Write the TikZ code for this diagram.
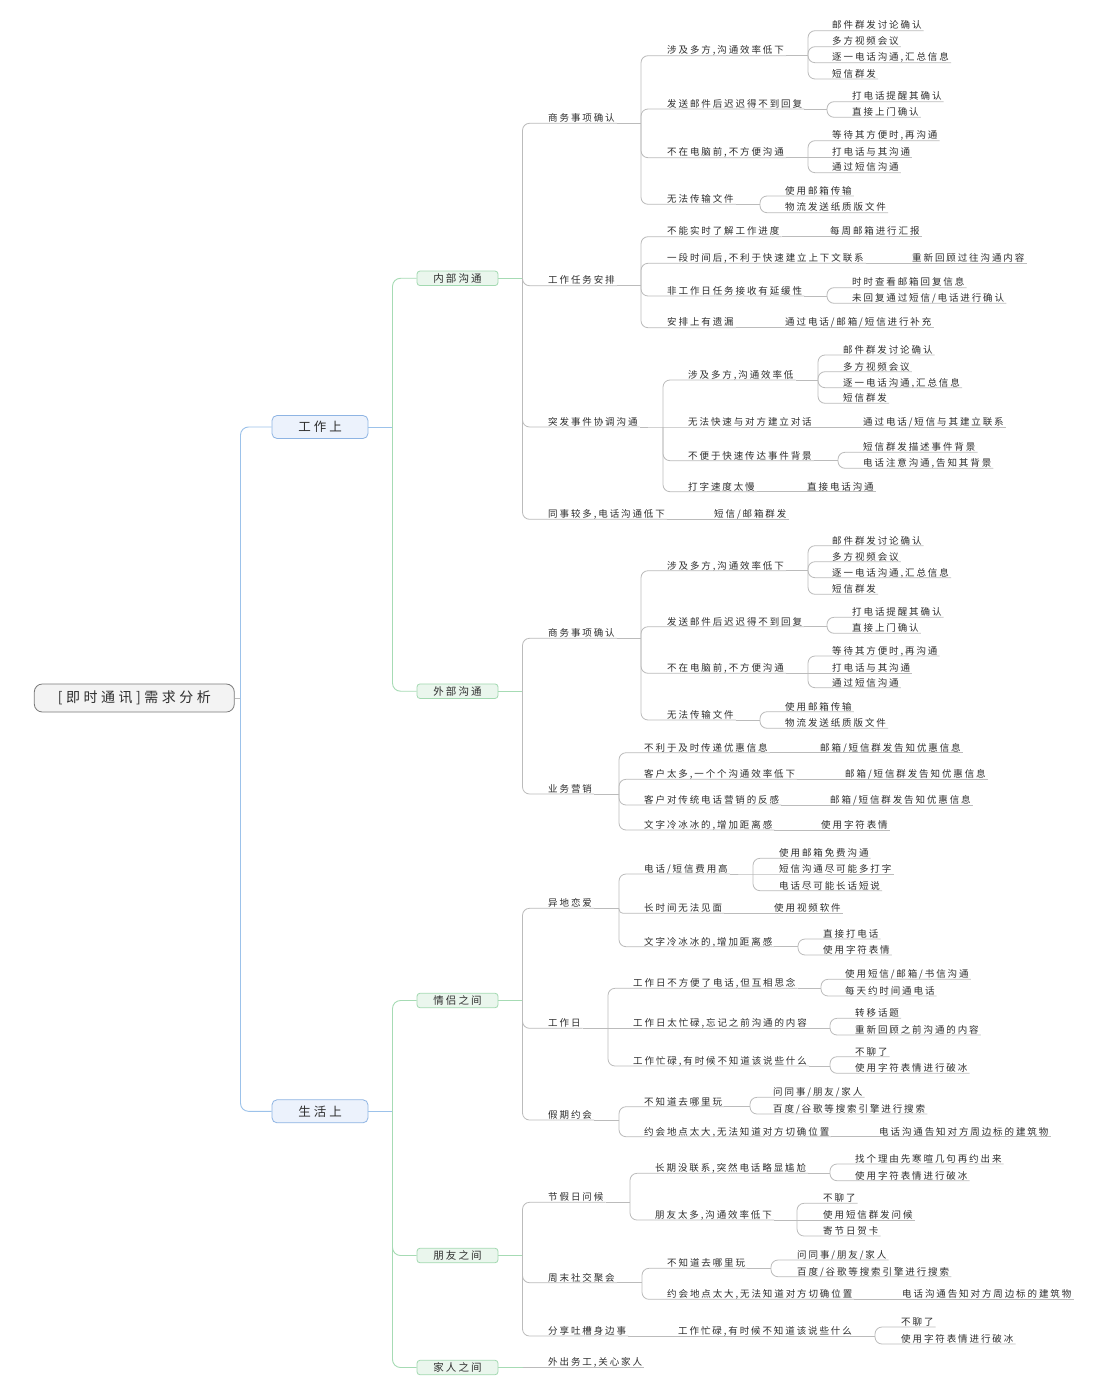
\documentclass[tikz,border=0pt]{standalone}
\usepackage{fontspec}
\usepackage{tikz}
\usetikzlibrary{positioning,calc}

\newfontfamily\leaffont[LetterSpace=20]{Noto Sans CJK SC}
\newfontfamily\subfont[LetterSpace=20]{Noto Sans CJK SC}
\newfontfamily\topfont[LetterSpace=24]{Noto Sans CJK SC}
\newfontfamily\rootfont[LetterSpace=25]{Noto Sans CJK SC}

\definecolor{linegray}{HTML}{BBBBBB}
\definecolor{lineblue}{HTML}{9CC2EA}
\definecolor{linegreen}{HTML}{A6DBB4}
\definecolor{rootfill}{HTML}{F3F3F3}
\definecolor{rootdraw}{HTML}{7A7A7A}
\definecolor{topfill}{HTML}{ECF2FC}
\definecolor{topdraw}{HTML}{8EB4E3}
\definecolor{subfill}{HTML}{EAF6ED}
\definecolor{subdraw}{HTML}{A3D9B1}
\definecolor{txt}{HTML}{2E2E2E}

\tikzset{
  leaf/.style={anchor=south west, inner xsep=2pt, inner ysep=0pt, text height=7.5pt, text depth=1.5pt,
    font=\leaffont\fontsize{9.5}{10}\selectfont, text=txt},
  rootbox/.style={draw=rootdraw, fill=rootfill, rounded corners=8pt, line width=0.8pt,
    minimum width=200pt, minimum height=28pt, font=\rootfont\fontsize{14}{16}\selectfont, text=txt},
  topbox/.style={draw=topdraw, fill=topfill, rounded corners=5pt, line width=0.8pt,
    minimum width=96pt, minimum height=23pt, font=\topfont\fontsize{12.5}{14}\selectfont, text=txt},
  subbox/.style={draw=subdraw, fill=subfill, rounded corners=3pt, line width=0.8pt,
    minimum width=81pt, minimum height=14.5pt, inner ysep=0pt, font=\subfont\fontsize{10.5}{11}\selectfont, text=txt},
  gline/.style={draw=linegray, line width=0.8pt, rounded corners=7pt},
  bline/.style={draw=lineblue, line width=0.9pt, rounded corners=8pt},
  grline/.style={draw=linegreen, line width=0.9pt, rounded corners=8pt}
}

\begin{document}
\begin{tikzpicture}[x=1pt,y=-1pt]
\fill[white] (0,0) rectangle (1106,1396);
\useasboundingbox (0,0) rectangle (1106,1396);

% root and first two levels
\node[rootbox] (root) at (134.3,698) {[即时通讯]需求分析};
\node[topbox] (work) at (320,427) {工作上};
\node[topbox] (life) at (320,1111.3) {生活上};
\node[subbox] (inner) at (457.5,278.3) {内部沟通};
\node[subbox] (outer) at (457.5,691.2) {外部沟通};
\node[subbox] (couple) at (457.5,1000.5) {情侣之间};
\node[subbox] (friend) at (457.5,1255.5) {朋友之间};
\node[subbox] (family) at (457.5,1367.5) {家人之间};
\coordinate (rootj) at (240.5,698);
\coordinate (workj) at (392.5,427);
\coordinate (lifej) at (392.5,1111.3);
\draw[gline] (root.east) -- (rootj);
\foreach \c in {work,life} \draw[bline] (rootj) |- (\c.west);
\draw[bline] (work.east) -- (workj);
\foreach \c in {inner,outer} \draw[grline] (workj) |- (\c.west);
\draw[bline] (life.east) -- (lifej);
\foreach \c in {couple,friend,family} \draw[grline] (lifej) |- (\c.west);

% 内部沟通
\coordinate (innerj) at (522.5,278.3);
\node[leaf] (in1) at (546,123.3) {商务事项确认};
\node[leaf] (in2) at (546,285.7) {工作任务安排};
\node[leaf] (in3) at (546,427) {突发事件协调沟通};
\node[leaf] (in4) at (546,519.3) {同事较多,电话沟通低下};
\draw[grline] (inner.east) -- (innerj);
\foreach \c in {in1,in2,in3,in4} \draw[gline] (innerj) |- (\c.south east);

\coordinate (in1j) at (641,123.3);
\node[leaf] (in1a) at (665,55.7) {涉及多方,沟通效率低下};
\node[leaf] (in1b) at (665,109) {发送邮件后迟迟得不到回复};
\node[leaf] (in1c) at (665,157.7) {不在电脑前,不方便沟通};
\node[leaf] (in1d) at (665,204.3) {无法传输文件};
\draw[gline] (in1.south east) -- (in1j);
\foreach \c in {in1a,in1b,in1c,in1d} \draw[gline] (in1j) |- (\c.south east);

\coordinate (in1aj) at (808,55.7);
\node[leaf] (in1a1) at (830,30.7) {邮件群发讨论确认};
\node[leaf] (in1a2) at (830,46.7) {多方视频会议};
\node[leaf] (in1a3) at (830,62.7) {逐一电话沟通,汇总信息};
\node[leaf] (in1a4) at (830,79) {短信群发};
\draw[gline] (in1a.south east) -- (in1aj);
\foreach \c in {in1a1,in1a2,in1a3,in1a4} \draw[gline] (in1aj) |- (\c.south east);

\coordinate (in1bj) at (827,109);
\node[leaf] (in1b1) at (850,101.7) {打电话提醒其确认};
\node[leaf] (in1b2) at (850,117.3) {直接上门确认};
\draw[gline] (in1b.south east) -- (in1bj);
\foreach \c in {in1b1,in1b2} \draw[gline] (in1bj) |- (\c.south east);

\coordinate (in1cj) at (808,157.7);
\node[leaf] (in1c1) at (830,140.7) {等待其方便时,再沟通};
\node[leaf] (in1c2) at (830,157.7) {打电话与其沟通};
\node[leaf] (in1c3) at (830,172.7) {通过短信沟通};
\draw[gline] (in1c.south east) -- (in1cj) -- (in1c2.south east);
\foreach \c in {in1c1,in1c3} \draw[gline] (in1cj) |- (\c.south east);

\coordinate (in1dj) at (760,204.3);
\node[leaf] (in1d1) at (783,196) {使用邮箱传输};
\node[leaf] (in1d2) at (783,212.7) {物流发送纸质版文件};
\draw[gline] (in1d.south east) -- (in1dj);
\foreach \c in {in1d1,in1d2} \draw[gline] (in1dj) |- (\c.south east);

\coordinate (in2j) at (641,285.7);
\node[leaf] (in2a) at (665,236.7) {不能实时了解工作进度};
\node[leaf] (in2b) at (665,263.3) {一段时间后,不利于快速建立上下文联系};
\node[leaf] (in2c) at (665,296) {非工作日任务接收有延缓性};
\node[leaf] (in2d) at (665,327.7) {安排上有遗漏};
\draw[gline] (in2.south east) -- (in2j);
\foreach \c in {in2a,in2b,in2c,in2d} \draw[gline] (in2j) |- (\c.south east);
\node[leaf] (in2a1) at (828,236.7) {每周邮箱进行汇报};
\node[leaf] (in2b1) at (910,263.3) {重新回顾过往沟通内容};
\node[leaf] (in2d1) at (783,327.7) {通过电话/邮箱/短信进行补充};
\draw[gline] (in2a.south east) -- (in2a1.south east);
\draw[gline] (in2b.south east) -- (in2b1.south east);
\draw[gline] (in2d.south east) -- (in2d1.south east);
\coordinate (in2cj) at (827,296);
\node[leaf] (in2c1) at (850,287.7) {时时查看邮箱回复信息};
\node[leaf] (in2c2) at (850,303.3) {未回复通过短信/电话进行确认};
\draw[gline] (in2c.south east) -- (in2cj);
\foreach \c in {in2c1,in2c2} \draw[gline] (in2cj) |- (\c.south east);

\coordinate (in3j) at (663,427);
\node[leaf] (in3a) at (686,380) {涉及多方,沟通效率低};
\node[leaf] (in3b) at (686,427) {无法快速与对方建立对话};
\node[leaf] (in3c) at (686,460.7) {不便于快速传达事件背景};
\node[leaf] (in3d) at (686,491.7) {打字速度太慢};
\draw[gline] (in3.south east) -- (in3j) -- (in3b.south east);
\foreach \c in {in3a,in3c,in3d} \draw[gline] (in3j) |- (\c.south east);
\coordinate (in3aj) at (818,380);
\node[leaf] (in3a1) at (841,355) {邮件群发讨论确认};
\node[leaf] (in3a2) at (841,371.7) {多方视频会议};
\node[leaf] (in3a3) at (841,387.7) {逐一电话沟通,汇总信息};
\node[leaf] (in3a4) at (841,403.3) {短信群发};
\draw[gline] (in3a.south east) -- (in3aj);
\foreach \c in {in3a1,in3a2,in3a3,in3a4} \draw[gline] (in3aj) |- (\c.south east);
\node[leaf] (in3b1) at (861,427) {通过电话/短信与其建立联系};
\draw[gline] (in3b.south east) -- (in3b1.south east);
\coordinate (in3cj) at (838,460.7);
\node[leaf] (in3c1) at (861,452.3) {短信群发描述事件背景};
\node[leaf] (in3c2) at (861,468.3) {电话注意沟通,告知其背景};
\draw[gline] (in3c.south east) -- (in3cj);
\foreach \c in {in3c1,in3c2} \draw[gline] (in3cj) |- (\c.south east);
\node[leaf] (in3d1) at (805,491.7) {直接电话沟通};
\draw[gline] (in3d.south east) -- (in3d1.south east);
\node[leaf] (in4a) at (712,519.3) {短信/邮箱群发};
\draw[gline] (in4.south east) -- (in4a.south east);

% 外部沟通
\coordinate (outerj) at (522.5,691.2);
\node[leaf] (out1) at (546,638.3) {商务事项确认};
\node[leaf] (out2) at (546,794) {业务营销};
\draw[grline] (outer.east) -- (outerj);
\foreach \c in {out1,out2} \draw[gline] (outerj) |- (\c.south east);

\coordinate (out1j) at (641,638.3);
\node[leaf] (out1a) at (665,570.7) {涉及多方,沟通效率低下};
\node[leaf] (out1b) at (665,626.7) {发送邮件后迟迟得不到回复};
\node[leaf] (out1c) at (665,673.3) {不在电脑前,不方便沟通};
\node[leaf] (out1d) at (665,720) {无法传输文件};
\draw[gline] (out1.south east) -- (out1j);
\foreach \c in {out1a,out1b,out1c,out1d} \draw[gline] (out1j) |- (\c.south east);

\coordinate (out1aj) at (808,570.7);
\node[leaf] (out1a1) at (830,545.7) {邮件群发讨论确认};
\node[leaf] (out1a2) at (830,561.7) {多方视频会议};
\node[leaf] (out1a3) at (830,577.7) {逐一电话沟通,汇总信息};
\node[leaf] (out1a4) at (830,594.3) {短信群发};
\draw[gline] (out1a.south east) -- (out1aj);
\foreach \c in {out1a1,out1a2,out1a3,out1a4} \draw[gline] (out1aj) |- (\c.south east);

\coordinate (out1bj) at (827,626.7);
\node[leaf] (out1b1) at (850,617.3) {打电话提醒其确认};
\node[leaf] (out1b2) at (850,633.3) {直接上门确认};
\draw[gline] (out1b.south east) -- (out1bj);
\foreach \c in {out1b1,out1b2} \draw[gline] (out1bj) |- (\c.south east);

\coordinate (out1cj) at (808,673.3);
\node[leaf] (out1c1) at (830,656) {等待其方便时,再沟通};
\node[leaf] (out1c2) at (830,673.3) {打电话与其沟通};
\node[leaf] (out1c3) at (830,687.7) {通过短信沟通};
\draw[gline] (out1c.south east) -- (out1cj) -- (out1c2.south east);
\foreach \c in {out1c1,out1c3} \draw[gline] (out1cj) |- (\c.south east);

\coordinate (out1dj) at (760,720);
\node[leaf] (out1d1) at (783,711.7) {使用邮箱传输};
\node[leaf] (out1d2) at (783,728.3) {物流发送纸质版文件};
\draw[gline] (out1d.south east) -- (out1dj);
\foreach \c in {out1d1,out1d2} \draw[gline] (out1dj) |- (\c.south east);

\coordinate (out2j) at (619,794);
\node[leaf] (out2a) at (642,752.7) {不利于及时传递优惠信息};
\node[leaf] (out2b) at (642,779.3) {客户太多,一个个沟通效率低下};
\node[leaf] (out2c) at (642,805) {客户对传统电话营销的反感};
\node[leaf] (out2d) at (642,830) {文字冷冰冰的,增加距离感};
\draw[gline] (out2.south east) -- (out2j);
\foreach \c in {out2a,out2b,out2c,out2d} \draw[gline] (out2j) |- (\c.south east);
\node[leaf] (out2a1) at (818,752.7) {邮箱/短信群发告知优惠信息};
\node[leaf] (out2b1) at (843,779.3) {邮箱/短信群发告知优惠信息};
\node[leaf] (out2c1) at (828,805) {邮箱/短信群发告知优惠信息};
\node[leaf] (out2d1) at (819,830) {使用字符表情};
\foreach \p in {out2a,out2b,out2c,out2d} \draw[gline] (\p.south east) -- (\p1.south east);

% 情侣之间
\coordinate (couplej) at (522.5,1000.5);
\node[leaf] (cp1) at (546,908.3) {异地恋爱};
\node[leaf] (cp2) at (546,1028.3) {工作日};
\node[leaf] (cp3) at (546,1120) {假期约会};
\draw[grline] (couple.east) -- (couplej);
\foreach \c in {cp1,cp2,cp3} \draw[gline] (couplej) |- (\c.south east);

\coordinate (cp1j) at (619,908.3);
\node[leaf] (cp1a) at (642,874) {电话/短信费用高};
\node[leaf] (cp1b) at (642,913.3) {长时间无法见面};
\node[leaf] (cp1c) at (642,946.7) {文字冷冰冰的,增加距离感};
\draw[gline] (cp1.south east) -- (cp1j);
\foreach \c in {cp1a,cp1c} \draw[gline] (cp1j) |- (\c.south east);
\draw[gline,rounded corners=4pt] (cp1j) |- (cp1b.south east);
\coordinate (cp1aj) at (753,874);
\node[leaf] (cp1a1) at (777,858.3) {使用邮箱免费沟通};
\node[leaf] (cp1a2) at (777,874) {短信沟通尽可能多打字};
\node[leaf] (cp1a3) at (777,890.7) {电话尽可能长话短说};
\draw[gline] (cp1a.south east) -- (cp1aj) -- (cp1a2.south east);
\foreach \c in {cp1a1,cp1a3} \draw[gline] (cp1aj) |- (\c.south east);
\node[leaf] (cp1b1) at (772,913.3) {使用视频软件};
\draw[gline] (cp1b.south east) -- (cp1b1.south east);
\coordinate (cp1cj) at (798,946.7);
\node[leaf] (cp1c1) at (821,939) {直接打电话};
\node[leaf] (cp1c2) at (821,955) {使用字符表情};
\draw[gline] (cp1c.south east) -- (cp1cj);
\foreach \c in {cp1c1,cp1c2} \draw[gline] (cp1cj) |- (\c.south east);

\coordinate (cp2j) at (608,1028.3);
\node[leaf] (cp2a) at (631,988.3) {工作日不方便了电话,但互相思念};
\node[leaf] (cp2b) at (631,1028.3) {工作日太忙碌,忘记之前沟通的内容};
\node[leaf] (cp2c) at (631,1066) {工作忙碌,有时候不知道该说些什么};
\draw[gline] (cp2.south east) -- (cp2j) -- (cp2b.south east);
\foreach \c in {cp2a,cp2c} \draw[gline] (cp2j) |- (\c.south east);
\coordinate (cp2aj) at (821,988.3);
\node[leaf] (cp2a1) at (843,979.3) {使用短信/邮箱/书信沟通};
\node[leaf] (cp2a2) at (843,996) {每天约时间通电话};
\draw[gline] (cp2a.south east) -- (cp2aj);
\foreach \c in {cp2a1,cp2a2} \draw[gline] (cp2aj) |- (\c.south east);
\coordinate (cp2bj) at (830,1028.3);
\node[leaf] (cp2b1) at (853,1018.3) {转移话题};
\node[leaf] (cp2b2) at (853,1035) {重新回顾之前沟通的内容};
\draw[gline] (cp2b.south east) -- (cp2bj);
\foreach \c in {cp2b1,cp2b2} \draw[gline] (cp2bj) |- (\c.south east);
\coordinate (cp2cj) at (830,1066);
\node[leaf] (cp2c1) at (853,1056.7) {不聊了};
\node[leaf] (cp2c2) at (853,1073.3) {使用字符表情进行破冰};
\draw[gline] (cp2c.south east) -- (cp2cj);
\foreach \c in {cp2c1,cp2c2} \draw[gline] (cp2cj) |- (\c.south east);

\coordinate (cp3j) at (619,1120);
\node[leaf] (cp3a) at (642,1106.7) {不知道去哪里玩};
\node[leaf] (cp3b) at (642,1136.7) {约会地点太大,无法知道对方切确位置};
\draw[gline] (cp3.south east) -- (cp3j);
\foreach \c in {cp3a,cp3b} \draw[gline] (cp3j) |- (\c.south east);
\coordinate (cp3aj) at (750,1106.7);
\node[leaf] (cp3a1) at (771,1097.3) {问同事/朋友/家人};
\node[leaf] (cp3a2) at (771,1114) {百度/谷歌等搜索引擎进行搜索};
\draw[gline] (cp3a.south east) -- (cp3aj);
\foreach \c in {cp3a1,cp3a2} \draw[gline] (cp3aj) |- (\c.south east);
\node[leaf] (cp3b1) at (877,1136.7) {电话沟通告知对方周边标的建筑物};
\draw[gline] (cp3b.south east) -- (cp3b1.south east);

% 朋友之间
\coordinate (friendj) at (522.5,1255.5);
\node[leaf] (fr1) at (546,1202.3) {节假日问候};
\node[leaf] (fr2) at (546,1282.7) {周末社交聚会};
\node[leaf] (fr3) at (546,1336) {分享吐槽身边事};
\draw[grline] (friend.east) -- (friendj);
\foreach \c in {fr1,fr2,fr3} \draw[gline] (friendj) |- (\c.south east);

\coordinate (fr1j) at (630,1202.3);
\node[leaf] (fr1a) at (653,1173.3) {长期没联系,突然电话略显尴尬};
\node[leaf] (fr1b) at (653,1220) {朋友太多,沟通效率低下};
\draw[gline] (fr1.south east) -- (fr1j);
\foreach \c in {fr1a,fr1b} \draw[gline] (fr1j) |- (\c.south east);
\coordinate (fr1aj) at (830,1173.3);
\node[leaf] (fr1a1) at (853,1164) {找个理由先寒暄几句再约出来};
\node[leaf] (fr1a2) at (853,1180.7) {使用字符表情进行破冰};
\draw[gline] (fr1a.south east) -- (fr1aj);
\foreach \c in {fr1a1,fr1a2} \draw[gline] (fr1aj) |- (\c.south east);
\coordinate (fr1bj) at (797,1220);
\node[leaf] (fr1b1) at (821,1203.3) {不聊了};
\node[leaf] (fr1b2) at (821,1220) {使用短信群发问候};
\node[leaf] (fr1b3) at (821,1236) {寄节日贺卡};
\draw[gline] (fr1b.south east) -- (fr1bj) -- (fr1b2.south east);
\foreach \c in {fr1b1,fr1b3} \draw[gline] (fr1bj) |- (\c.south east);

\coordinate (fr2j) at (642,1282.7);
\node[leaf] (fr2a) at (665,1268.3) {不知道去哪里玩};
\node[leaf] (fr2b) at (665,1299.3) {约会地点太大,无法知道对方切确位置};
\draw[gline] (fr2.south east) -- (fr2j);
\foreach \c in {fr2a,fr2b} \draw[gline] (fr2j) |- (\c.south east);
\coordinate (fr2aj) at (771,1268.3);
\node[leaf] (fr2a1) at (795,1260) {问同事/朋友/家人};
\node[leaf] (fr2a2) at (795,1276.7) {百度/谷歌等搜索引擎进行搜索};
\draw[gline] (fr2a.south east) -- (fr2aj);
\foreach \c in {fr2a1,fr2a2} \draw[gline] (fr2aj) |- (\c.south east);
\node[leaf] (fr2b1) at (900,1299.3) {电话沟通告知对方周边标的建筑物};
\draw[gline] (fr2b.south east) -- (fr2b1.south east);

\node[leaf] (fr3a) at (676,1336) {工作忙碌,有时候不知道该说些什么};
\draw[gline] (fr3.south east) -- (fr3a.south east);
\coordinate (fr3aj) at (875,1336);
\node[leaf] (fr3a1) at (899,1327) {不聊了};
\node[leaf] (fr3a2) at (899,1344) {使用字符表情进行破冰};
\draw[gline] (fr3a.south east) -- (fr3aj);
\foreach \c in {fr3a1,fr3a2} \draw[gline] (fr3aj) |- (\c.south east);

% 家人之间
\coordinate (familyj) at (522.5,1367.5);
\node[leaf] (fa1) at (546,1367.5) {外出务工,关心家人};
\draw[grline] (family.east) -- (familyj);
\draw[gline] (familyj) -- (fa1.south east);
\end{tikzpicture}
\end{document}
